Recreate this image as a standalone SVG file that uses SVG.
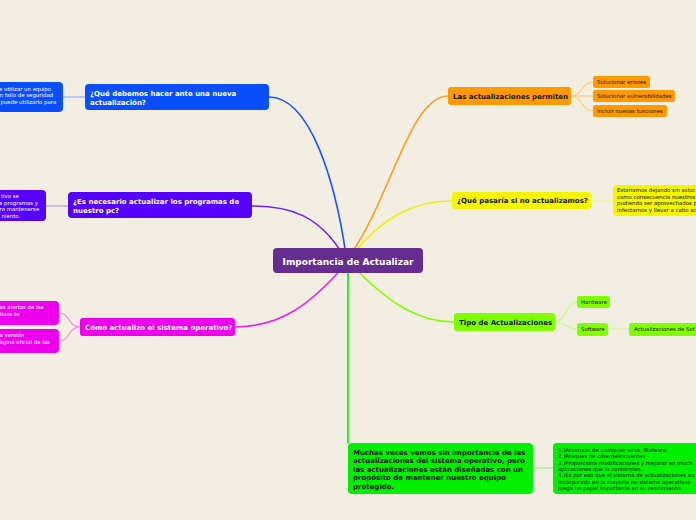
<svg xmlns="http://www.w3.org/2000/svg" width="696" height="520" viewBox="0 0 696 520">
<style>
.t{font-family:"DejaVu Sans",Verdana,sans-serif;font-weight:bold;font-size:7px}
.s{font-family:"DejaVu Sans",Verdana,sans-serif;font-size:5.4px}
.w{fill:#ffffff}
.k{fill:#111111}
.c{fill:none;stroke-linecap:round}
.m{stroke-width:1.6}
.n{stroke-width:1.1}
</style>
<rect width="696" height="520" fill="#f2efe2"/>
<g id="connectors">
<path class="c m" stroke="#1a55ff" d="M346,255 C335,180 310,97 269,97"/>
<path class="c m" stroke="#6a20ff" d="M345,258 C320,215 290,206 252,206"/>
<path class="c m" stroke="#ee22ee" d="M345,265 C310,305 280,327 235,327"/>
<path class="c m" stroke="#ff9d1a" d="M350,255 C390,200 410,96 448,96"/>
<path class="c m" stroke="#f0f000" d="M352,255 C385,215 415,201 452,201"/>
<path class="c m" stroke="#80ff00" d="M352,265 C390,305 420,322 454,322"/>
<path class="c m" stroke="#00ee00" d="M348,261 L348,443"/>
<path class="c n" stroke="#8aa6ff" d="M63,97 L85,97"/>
<path class="c n" stroke="#a585ff" d="M46,206 L68,206"/>
<path class="c n" stroke="#f080f0" d="M80,327 C68,327 70,313 59,313 M80,327 C68,327 70,341 59,341"/>
<path class="c n" stroke="#ffc870" d="M571,96 C582,96 582,82 593,82 M571,96 L593,96 M571,96 C582,96 582,111 593,111"/>
<path class="c n" stroke="#f5f580" d="M591,201 L613,201"/>
<path class="c n" stroke="#c0ff80" d="M555,322 C566,322 566,302 577,302 M555,322 C566,322 566,329 577,329 M608,329 L629,329"/>
<path class="c n" stroke="#80ee80" d="M533,468 L553,468"/>
</g>
<g id="center">
<rect x="273" y="248" width="150" height="25" rx="4" fill="#662d91"/>
<text class="t w" x="348" y="264.5" text-anchor="middle" style="font-size:9px">Importancia de Actualizar</text>
</g>
<g id="n-blue">
<rect x="85" y="84" width="184" height="26" rx="4" fill="#0a4fff"/>
<text class="t w" x="90" y="95.5">¿Qué debemos hacer ante una nueva</text>
<text class="t w" x="90" y="104.5">actualización?</text>
</g>
<g id="n-blue-c">
<rect x="-10" y="82" width="73" height="30" rx="4" fill="#0a4fff"/>
<text class="s w" x="-1" y="90.5">e utilizar un equipo</text>
<text class="s w" x="-0.5" y="97">n fallo de seguridad</text>
<text class="s w" x="0.5" y="103.5">puede utilizarlo para</text>
</g>
<g id="n-purple">
<rect x="68" y="192" width="184" height="26" rx="4" fill="#5500ff"/>
<text class="t w" x="73" y="203.5">¿Es necesario actualizar los programas de</text>
<text class="t w" x="73" y="212.5">nuestro pc?</text>
</g>
<g id="n-purple-c">
<rect x="-10" y="190" width="56" height="31" rx="4" fill="#5500ff"/>
<text class="s w" x="1" y="198">tivo se</text>
<text class="s w" x="-0.5" y="204.5">s programas y</text>
<text class="s w" x="-0.5" y="211">ra mantenerse</text>
<text class="s w" x="1.5" y="217.5">niento.</text>
</g>
<g id="n-magenta">
<rect x="80" y="318" width="155" height="18" rx="3" fill="#ee00ee"/>
<text class="t w" x="85" y="329.5">Cómo actualizo el sistema operativo?</text>
</g>
<g id="n-magenta-c1">
<rect x="-10" y="301" width="69" height="24" rx="4" fill="#ee00ee"/>
<text class="s w" x="-0.5" y="309">as alertas de las</text>
<text class="s w" x="-0.5" y="315.5">tivos te</text>
</g>
<g id="n-magenta-c2">
<rect x="-10" y="329" width="69" height="24" rx="4" fill="#ee00ee"/>
<text class="s w" x="-0.5" y="337">a versión</text>
<text class="s w" x="-0.5" y="343.5">ágina oficial de las</text>
</g>
<g id="n-orange">
<rect x="448" y="87" width="123" height="18" rx="3" fill="#ff9900"/>
<text class="t k" x="453" y="98.5">Las actualizaciones permiten</text>
</g>
<g id="n-orange-c1">
<rect x="593" y="76" width="57" height="12" rx="2.5" fill="#ff9900"/>
<text class="s k" x="597" y="83.9">Solucionar errores</text>
</g>
<g id="n-orange-c2">
<rect x="593" y="90" width="82" height="12" rx="2.5" fill="#ff9900"/>
<text class="s k" x="597" y="97.9">Solucionar vulnerabilidades</text>
</g>
<g id="n-orange-c3">
<rect x="593" y="105" width="74" height="12" rx="2.5" fill="#ff9900"/>
<text class="s k" x="597" y="112.9">Incluir nuevas funciones</text>
</g>
<g id="n-yellow">
<rect x="452" y="192" width="139" height="17" rx="3" fill="#f5f500"/>
<text class="t k" x="457" y="203">¿Qué pasaría si no actualizamos?</text>
</g>
<g id="n-yellow-c">
<rect x="613" y="185" width="95" height="31" rx="4" fill="#f5f500"/>
<text class="s k" x="617" y="192.3">Estaríamos dejando sin soluc</text>
<text class="s k" x="617" y="198.8">como consecuencia nuestros</text>
<text class="s k" x="617" y="205.3">pudiendo ser aprovechados p</text>
<text class="s k" x="617" y="211.8">infectarnos y llevar a cabo ac</text>
</g>
<g id="n-lime">
<rect x="454" y="313" width="101" height="18" rx="3" fill="#80ff00"/>
<text class="t k" x="459" y="324.5">Tipo de Actualizaciones</text>
</g>
<g id="n-lime-c1">
<rect x="577" y="296" width="33" height="12" rx="2.5" fill="#80ff00"/>
<text class="s k" x="581" y="303.9">Hardware</text>
</g>
<g id="n-lime-c2">
<rect x="577" y="323" width="31" height="13" rx="2.5" fill="#80ff00"/>
<text class="s k" x="581" y="331.4">Software</text>
</g>
<g id="n-lime-c3">
<rect x="629" y="323" width="80" height="13" rx="2.5" fill="#80ff00"/>
<text class="s k" x="634" y="331.4">Actualizaciones de Sof</text>
</g>
<g id="n-green">
<rect x="348" y="443" width="185" height="51" rx="4" fill="#00f000"/>
<text class="t k" x="353" y="454.5">Muchas veces vemos sin importancia de las</text>
<text class="t k" x="353" y="463">actualizaciones del sistema operativo, pero</text>
<text class="t k" x="353" y="471.5">las actualizaciones están diseñadas con un</text>
<text class="t k" x="353" y="480">propósito de mantener nuestro equipo</text>
<text class="t k" x="353" y="488.5">protegido.</text>
</g>
<g id="n-green-c">
<rect x="553" y="443" width="155" height="51" rx="4" fill="#00f000"/>
<text class="s k" x="558" y="452">1.)Amenaza de cualquier virus, Malware.</text>
<text class="s k" x="558" y="458.3">2.)Ataques de ciberdelincuentes</text>
<text class="s k" x="558" y="464.6">3.)Proporciona  modificaciones y mejorar en much</text>
<text class="s k" x="558" y="470.9">aplicaciones que lo conforman.</text>
<text class="s k" x="558" y="477.2">4.)Es por eso que el sistema de actualizaciones au</text>
<text class="s k" x="558" y="483.5">incorporado en la mayoría de sistema  operativos</text>
<text class="s k" x="558" y="489.8">juega un papel importante en su rendimiento.</text>
</g>
</svg>
